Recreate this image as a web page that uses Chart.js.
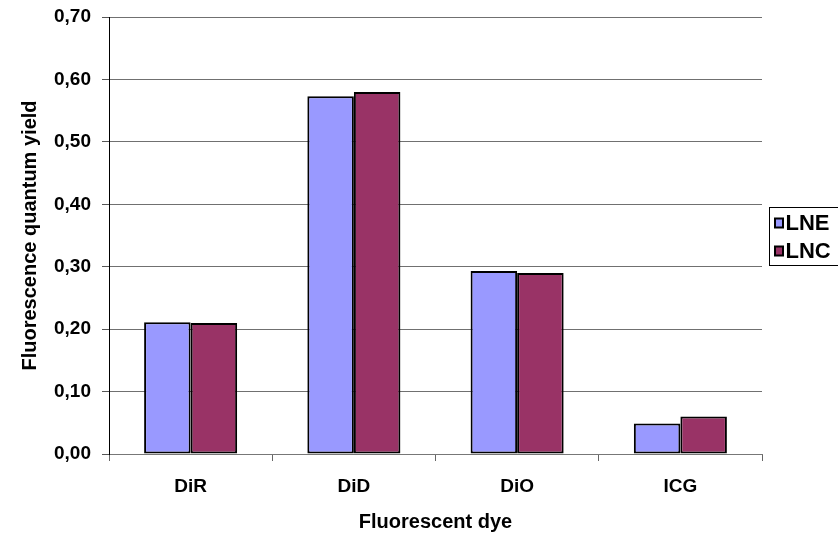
<!DOCTYPE html>
<html>
<head>
<meta charset="utf-8">
<script src="https://cdn.jsdelivr.net/npm/chart.js@4/dist/chart.umd.min.js"></script>
<style>
  html, body { margin: 0; padding: 0; background: #ffffff; }
  #wrap { width: 838px; height: 534px; position: relative; }
</style>
</head>
<body>
<div id="wrap"><canvas id="chart" width="838" height="534"></canvas></div>
<script>
// Fluorescence quantum yield of lipophilic dyes in two nanocarrier types
const dyes = ['DiR', 'DiD', 'DiO', 'ICG'];
const lneValues = [0.211, 0.573, 0.293, 0.049];
const lncValues = [0.210, 0.580, 0.290, 0.060];
const seriesNames = ['LNE', 'LNC'];
const seriesColors = ['#9999FF', '#993366'];
const yTickValues = [0, 0.1, 0.2, 0.3, 0.4, 0.5, 0.6, 0.7];

const FONT = 'Liberation Sans, Arial, Helvetica, sans-serif';

// Boxed legend on the right side, built from the datasets
const boxedLegend = {
  id: 'boxedLegend',
  afterDraw(chart) {
    const { ctx, chartArea } = chart;
    const sets = chart.data.datasets;
    const rowH = 28;
    const boxH = 58;
    const left = Math.round(chartArea.right) + 7.5;
    const midY = (chartArea.top + chartArea.bottom) / 2;
    const top = Math.round(midY - boxH / 2) + 0.5;
    ctx.save();
    ctx.strokeStyle = '#000000';
    ctx.lineWidth = 1;
    ctx.strokeRect(left, top, 100, boxH);
    ctx.font = 'bold 22px ' + FONT;
    ctx.textBaseline = 'middle';
    ctx.textAlign = 'left';
    sets.forEach((ds, i) => {
      const cy = top + 15.5 + i * rowH;
      ctx.fillStyle = ds.backgroundColor;
      ctx.fillRect(left + 5.5, cy - 4.5, 8, 9);
      ctx.strokeStyle = '#000000';
      ctx.lineWidth = 2;
      ctx.strokeRect(left + 5.5, cy - 4.5, 8, 9);
      ctx.fillStyle = '#000000';
      ctx.fillText(ds.label, left + 16, cy + 1);
    });
    ctx.restore();
  }
};

new Chart(document.getElementById('chart'), {
  type: 'bar',
  data: {
    labels: dyes,
    datasets: [
      { label: seriesNames[0], data: lneValues, backgroundColor: seriesColors[0], borderColor: '#000000', borderWidth: 2, borderSkipped: false },
      { label: seriesNames[1], data: lncValues, backgroundColor: seriesColors[1], borderColor: '#000000', borderWidth: 2, borderSkipped: false }
    ]
  },
  options: {
    responsive: false,
    animation: false,
    devicePixelRatio: 1,
    layout: { padding: { top: 17, right: 76, left: 0, bottom: 0 } },
    datasets: { bar: { categoryPercentage: 0.57, barPercentage: 1.0 } },
    plugins: {
      legend: { display: false },
      tooltip: { enabled: false }
    },
    scales: {
      x: {
        offset: true,
        grid: { display: true, drawOnChartArea: false, drawTicks: true, tickLength: 7, color: '#666666', offset: true },
        border: { display: true, color: '#777777', width: 1 },
        ticks: { color: '#000000', font: { family: FONT, size: 19, weight: 'bold' }, padding: 14 },
        title: { display: true, text: 'Fluorescent dye', color: '#000000', font: { family: FONT, size: 20, weight: 'bold' }, padding: { top: 0, bottom: 0 } },
        afterFit(scale) { scale.height = 80; scale.paddingLeft = 0; scale.paddingRight = 0; }
      },
      y: {
        min: 0,
        max: 0.7,
        afterBuildTicks(scale) { scale.ticks = yTickValues.map(v => ({ value: v })); },
        grid: { color: '#707070', lineWidth: 1, tickLength: 7, drawTicks: true, tickColor: '#555555' },
        border: { display: true, color: '#000000', width: 1 },
        ticks: {
          color: '#000000',
          font: { family: FONT, size: 19, weight: 'bold' },
          padding: 11,
          callback: (v) => Number(v).toFixed(2).replace('.', ',')
        },
        title: { display: true, text: 'Fluorescence quantum yield', color: '#000000', font: { family: FONT, size: 20, weight: 'bold' }, padding: { top: 18, bottom: 0 } },
        afterFit(scale) { scale.width = 109; scale.paddingTop = 0; scale.paddingBottom = 0; }
      }
    }
  },
  plugins: [boxedLegend]
});
</script>
</body>
</html>
